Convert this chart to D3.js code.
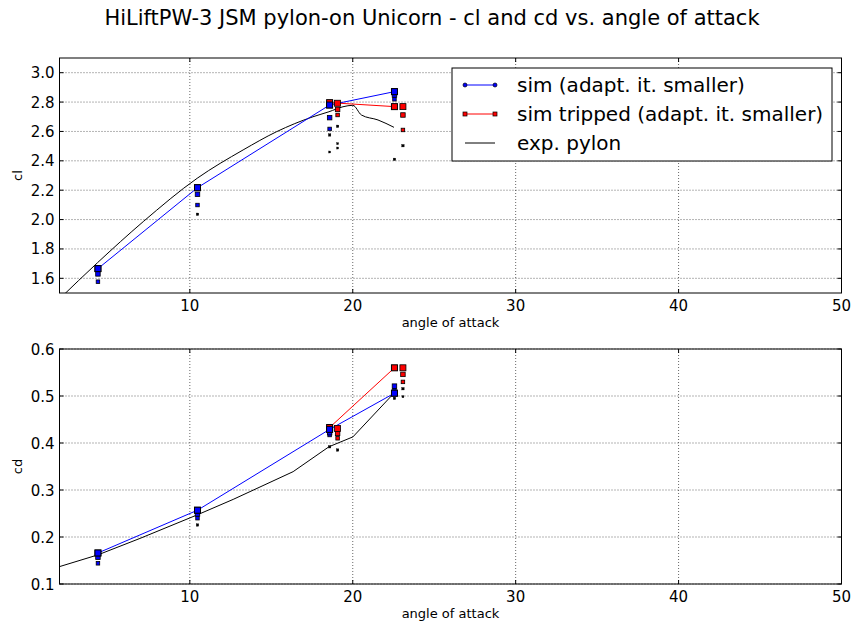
<!DOCTYPE html>
<html><head><meta charset="utf-8">
<script src="https://cdn.jsdelivr.net/npm/d3@7"></script>
<style>body{margin:0;background:#fff}svg{display:block;font-family:"DejaVu Sans",sans-serif}</style>
</head><body><svg id="c" width="851" height="625"></svg>
<script>
// ---- data ----
const title = "HiLiftPW-3 JSM pylon-on Unicorn - cl and cd vs. angle of attack";
const legendLabels = ["sim (adapt. it. smaller)", "sim tripped (adapt. it. smaller)", "exp. pylon"];
const xTicks = [10, 20, 30, 40, 50];
const clTicks = [1.6, 1.8, 2.0, 2.2, 2.4, 2.6, 2.8, 3.0];
const cdTicks = [0.1, 0.2, 0.3, 0.4, 0.5, 0.6];

// sim (final values, connected)
const simAlpha = [4.36, 10.47, 18.58, 22.56];
const simCl = [1.666, 2.217, 2.780, 2.871];
const simCd = [0.166, 0.257, 0.429, 0.506];
// sim adaptation history (latest first)
const simHistAlpha = [4.36, 10.47, 18.58, 22.56];
const simHistCl = [[1.666, 1.630, 1.577], [2.217, 2.172, 2.099, 2.036], [2.780, 2.694, 2.617, 2.576, 2.460], [2.871, 2.848, 2.819, 2.410]];
const simHistCd = [[0.166, 0.157, 0.144], [0.257, 0.249, 0.240, 0.2255], [0.429, 0.422, 0.417, 0.392], [0.506, 0.521, 0.513, 0.495]];

// sim tripped
const tripAlpha = [18.58, 22.56];
const tripCl = [2.796, 2.769];
const tripCd = [0.433, 0.560];
const tripHistAlpha = [19.07, 23.08];
const tripHistCl = [[2.792, 2.750, 2.712, 2.635, 2.517, 2.487], [2.769, 2.712, 2.610, 2.503]];
const tripHistCd = [[0.431, 0.4205, 0.410, 0.385], [0.560, 0.546, 0.530, 0.5155, 0.4985]];

// experiment
const expAlphaCl = [2.0, 4.34, 7.14, 10.45, 13.27, 15.32, 17.56, 18.54, 19.40, 20.01, 20.53, 21.55, 22.53];
const expCl = [1.46, 1.707, 1.986, 2.281, 2.474, 2.598, 2.700, 2.734, 2.768, 2.778, 2.712, 2.678, 2.628];
const expAlphaCd = [2.0, 4.36, 6.94, 10.45, 12.66, 16.34, 18.54, 20.01, 22.53];
const expCd = [0.137, 0.162, 0.197, 0.247, 0.280, 0.339, 0.392, 0.413, 0.506];

// ---- drawing ----
const svg = d3.select("#c");
const L = 59.5, R = 841.5;
const x = d3.scaleLinear().domain([2, 50]).range([L, R]);

svg.append("text").attr("x", 432).attr("y", 25).attr("text-anchor", "middle")
  .attr("font-size", 21).text(title);

function panel(id, top, bottom, ydom, yticks, fmt, ylabel, expA, expV, expCurve,
               sA, sV, sHA, sHV, tA, tV, tHA, tHV) {
  const y = d3.scaleLinear().domain(ydom).range([bottom, top]);
  const g = svg.append("g");
  g.append("clipPath").attr("id", id).append("rect")
    .attr("x", L).attr("y", top).attr("width", R - L).attr("height", bottom - top);
  // grid
  g.selectAll(".gx").data(xTicks).join("line")
    .attr("x1", d => x(d)).attr("x2", d => x(d)).attr("y1", top).attr("y2", bottom)
    .attr("stroke", "#000").attr("stroke-width", 0.6).attr("stroke-dasharray", "1,2");
  g.selectAll(".gy").data(yticks).join("line")
    .attr("x1", L).attr("x2", R).attr("y1", d => y(d)).attr("y2", d => y(d))
    .attr("stroke", "#000").attr("stroke-width", 0.6).attr("stroke-dasharray", "1,2");
  // ticks (inside, all sides)
  g.selectAll(".tx").data(xTicks).join("path")
    .attr("d", d => `M${x(d)},${bottom}v-4M${x(d)},${top}v4`).attr("stroke", "#000");
  g.selectAll(".ty").data(yticks).join("path")
    .attr("d", d => `M${L},${y(d)}h4M${R},${y(d)}h-4`).attr("stroke", "#000");
  // tick labels
  g.selectAll(".lx").data(xTicks).join("text")
    .attr("x", d => x(d)).attr("y", bottom + 18).attr("text-anchor", "middle")
    .attr("font-size", 15).text(d => d);
  g.selectAll(".ly").data(yticks).join("text")
    .attr("x", L - 5).attr("y", d => y(d) + 5.5).attr("text-anchor", "end")
    .attr("font-size", 15).text(d => fmt(d));
  g.append("text").attr("x", (L + R) / 2).attr("y", bottom + 34).attr("text-anchor", "middle")
    .attr("font-size", 13).text("angle of attack");
  g.append("text").attr("transform", `translate(22,${(top + bottom) / 2}) rotate(-90)`)
    .attr("text-anchor", "middle").attr("font-size", 13).text(ylabel);

  const c = g.append("g").attr("clip-path", `url(#${id})`);
  // exp line
  c.append("path").datum(expA.map((a, i) => [a, expV[i]]))
    .attr("d", d3.line().x(d => x(d[0])).y(d => y(d[1])).curve(expCurve))
    .attr("fill", "none").attr("stroke", "#000").attr("stroke-width", 1);
  // sim lines
  c.append("path").datum(sA.map((a, i) => [a, sV[i]]))
    .attr("d", d3.line().x(d => x(d[0])).y(d => y(d[1])))
    .attr("fill", "none").attr("stroke", "#0000ff").attr("stroke-width", 1);
  c.append("path").datum(tA.map((a, i) => [a, tV[i]]))
    .attr("d", d3.line().x(d => x(d[0])).y(d => y(d[1])))
    .attr("fill", "none").attr("stroke", "#ff0000").attr("stroke-width", 1);
  // history markers
  const sizes = [6, 4.5, 3.5, 2.5, 2, 2];
  function hist(HA, HV, col) {
    const pts = [];
    HA.forEach((a, i) => HV[i].forEach((v, k) => pts.push({ a, v, k })));
    pts.sort((p, q) => q.k - p.k);
    c.selectAll(null).data(pts).join("rect")
      .attr("x", d => x(d.a) - sizes[d.k] / 2).attr("y", d => y(d.v) - sizes[d.k] / 2)
      .attr("width", d => sizes[d.k]).attr("height", d => sizes[d.k])
      .attr("fill", d => d.k < 3 ? col : "#000").attr("stroke", "#000")
      .attr("stroke-width", d => d.k < 3 ? 0.8 : 0.3);
  }
  hist(sHA, sHV, "#0000ff");
  // final markers
  c.selectAll(null).data(tA.map((a, i) => [a, tV[i]])).join("rect")
    .attr("x", d => x(d[0]) - 3).attr("y", d => y(d[1]) - 3).attr("width", 6).attr("height", 6)
    .attr("fill", "#ff0000").attr("stroke", "#000");
  hist(tHA, tHV, "#ff0000");
  c.selectAll(null).data(sA.map((a, i) => [a, sV[i]])).join("rect")
    .attr("x", d => x(d[0]) - 3).attr("y", d => y(d[1]) - 3).attr("width", 6).attr("height", 6)
    .attr("fill", "#0000ff").attr("stroke", "#000");
  // frame
  g.append("rect").attr("x", L).attr("y", top).attr("width", R - L).attr("height", bottom - top)
    .attr("fill", "none").attr("stroke", "#000").attr("stroke-width", 1);
  return g;
}

panel("cp1", 58, 293, [1.5, 3.1], clTicks, d3.format(".1f"), "cl", expAlphaCl, expCl, d3.curveMonotoneX,
  simAlpha, simCl, simHistAlpha, simHistCl, tripAlpha, tripCl, tripHistAlpha, tripHistCl);
panel("cp2", 349, 584, [0.1, 0.6], cdTicks, d3.format(".1f"), "cd", expAlphaCd, expCd, d3.curveLinear,
  simAlpha, simCd, simHistAlpha, simHistCd, tripAlpha, tripCd, tripHistAlpha, tripHistCd);

// legend
const lg = svg.append("g");
lg.append("rect").attr("x", 452).attr("y", 68).attr("width", 380).attr("height", 93)
  .attr("fill", "#fff").attr("stroke", "#000").attr("stroke-width", 1);
const rows = [85, 114, 143];
const lcol = ["#0000ff", "#ff0000", "#000"];
legendLabels.forEach((t, i) => {
  lg.append("line").attr("x1", 465).attr("x2", 495).attr("y1", rows[i]).attr("y2", rows[i])
    .attr("stroke", lcol[i]).attr("stroke-width", 1);
  if (i === 0) {
    [465, 495].forEach(px => lg.append("circle").attr("cx", px).attr("cy", rows[i]).attr("r", 2)
      .attr("fill", "#0000ff").attr("stroke", "#000").attr("stroke-width", 0.7));
  } else if (i === 1) {
    [465, 495].forEach(px => lg.append("rect").attr("x", px - 2).attr("y", rows[i] - 2)
      .attr("width", 4).attr("height", 4).attr("fill", "#ff0000").attr("stroke", "#000").attr("stroke-width", 0.7));
  }
  lg.append("text").attr("x", 517).attr("y", rows[i] + 7).attr("font-size", 20).text(t);
});
</script></body></html>
